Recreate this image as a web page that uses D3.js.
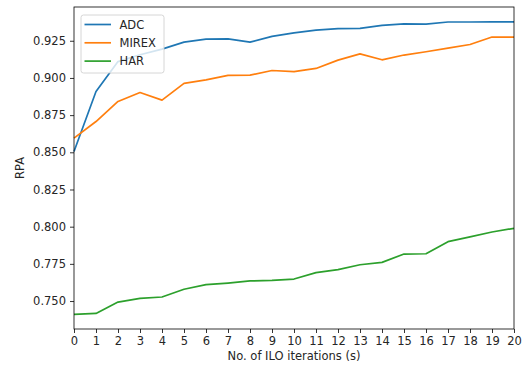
<!DOCTYPE html>
<html>
<head>
<meta charset="utf-8">
<script src="https://cdn.jsdelivr.net/npm/d3@7"></script>
<style>
  html, body { margin: 0; padding: 0; background: #fff; overflow: hidden; }
  svg { display: block; }
  text { font-family: "DejaVu Sans", sans-serif; fill: #262626; }
</style>
</head>
<body>
<div id="chart"></div>
<script>
//iterations on the x axis
const iterations = d3.range(0, 21);

//series values
const adc = [0.8505, 0.8909, 0.911, 0.9156, 0.9194, 0.9241, 0.9261, 0.9263, 0.9241, 0.9279,
  0.9303, 0.9322, 0.9331, 0.9333, 0.9353, 0.9364, 0.9362, 0.9376, 0.9376, 0.9377, 0.9377];
const mirex = [0.8595, 0.8707, 0.8842, 0.8902, 0.8851, 0.8963, 0.8987, 0.9017, 0.9019, 0.905,
  0.9042, 0.9064, 0.912, 0.9162, 0.9122, 0.9154, 0.9176, 0.9201, 0.9225, 0.9275, 0.9275];
const har = [0.741, 0.7417, 0.7493, 0.7518, 0.7527, 0.7579, 0.761, 0.7621, 0.7635, 0.7639,
  0.7648, 0.7691, 0.7711, 0.7744, 0.776, 0.7816, 0.7818, 0.7899, 0.7931, 0.7964, 0.7989];

const seriesNames = ["ADC", "MIREX", "HAR"];
const seriesValues = [adc, mirex, har];
const seriesColors = ["#1f77b4", "#ff7f0e", "#2ca02c"];

//tick values
const yTicks = [0.75, 0.775, 0.8, 0.825, 0.85, 0.875, 0.9, 0.925];

const fontSize = 11.5;

//svg size
const width = 522;
const height = 366;
const margin = { top: 7, right: 8, bottom: 37, left: 74 };
const innerWidth = width - margin.left - margin.right;
const innerHeight = height - margin.top - margin.bottom;

const svg = d3.select("#chart").append("svg")
  .attr("width", width)
  .attr("height", height);

const g = svg.append("g").attr("transform", `translate(${margin.left},${margin.top})`);

const x = d3.scaleLinear().domain([0, 20]).range([0, innerWidth]);
const y = d3.scaleLinear().domain([0.7312, 0.9477]).range([innerHeight, 0]);

//lines
const line = d3.line()
  .x((d, i) => x(iterations[i]))
  .y((d) => y(d));

seriesValues.forEach((values, i) => {
  g.append("path")
    .datum(values)
    .attr("fill", "none")
    .attr("stroke", seriesColors[i])
    .attr("stroke-width", 1.7)
    .attr("stroke-linejoin", "round")
    .attr("d", line);
});

//axes
const xAxis = g.append("g")
  .attr("transform", `translate(0,${innerHeight})`)
  .call(d3.axisBottom(x).tickValues(iterations).tickFormat(d3.format("d")).tickSize(4).tickPadding(4));
const yAxis = g.append("g")
  .call(d3.axisLeft(y).tickValues(yTicks).tickFormat(d3.format(".3f")).tickSize(4).tickPadding(4));

[xAxis, yAxis].forEach((ax) => {
  ax.select(".domain").remove();
  ax.selectAll("line").attr("stroke", "#000").attr("stroke-width", 0.8);
  ax.selectAll("text").attr("font-size", fontSize).attr("fill", "#262626")
    .attr("font-family", "DejaVu Sans");
});

//frame
g.append("rect")
  .attr("width", innerWidth)
  .attr("height", innerHeight)
  .attr("fill", "none")
  .attr("stroke", "#000")
  .attr("stroke-width", 0.8);

//axis labels
svg.append("text")
  .attr("x", margin.left + innerWidth / 2)
  .attr("y", height - 6)
  .attr("text-anchor", "middle")
  .attr("font-size", fontSize)
  .text("No. of ILO iterations (s)");

svg.append("text")
  .attr("transform", `translate(20,${margin.top + innerHeight / 2}) rotate(-90)`)
  .attr("text-anchor", "middle")
  .attr("dy", "0.35em")
  .attr("font-size", fontSize)
  .text("RPA");

//legend
const legend = g.append("g").attr("transform", "translate(7,8)");
legend.append("rect")
  .attr("width", 83)
  .attr("height", 58)
  .attr("rx", 2.5)
  .attr("fill", "#fff")
  .attr("fill-opacity", 0.8)
  .attr("stroke", "#ccc")
  .attr("stroke-width", 0.8);

seriesNames.forEach((name, i) => {
  const row = legend.append("g").attr("transform", `translate(0,${9.5 + i * 18.3})`);
  row.append("line")
    .attr("x1", 3.5).attr("x2", 30)
    .attr("stroke", seriesColors[i])
    .attr("stroke-width", 1.7);
  row.append("text")
    .attr("x", 38.5)
    .attr("dy", "0.35em")
    .attr("font-size", fontSize)
    .text(name);
});
</script>
</body>
</html>
